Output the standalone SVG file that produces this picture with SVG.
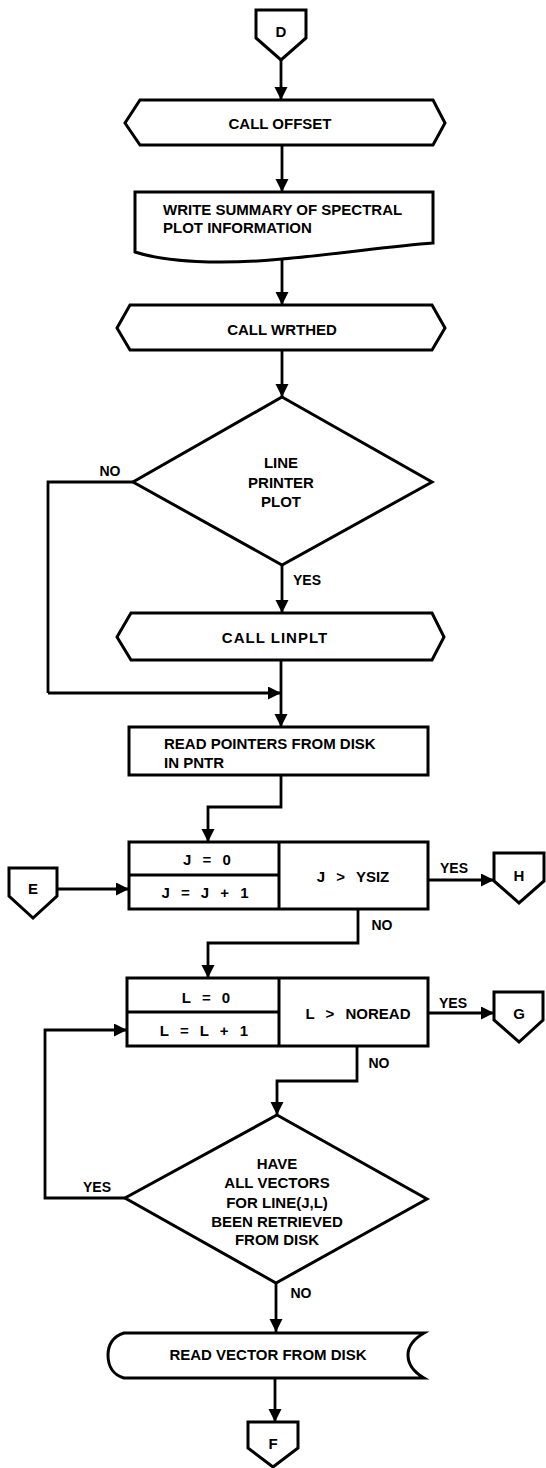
<svg xmlns="http://www.w3.org/2000/svg" width="546" height="1468" viewBox="0 0 546 1468">
<defs>
<marker id="arr" markerUnits="userSpaceOnUse" markerWidth="14" markerHeight="14" refX="13" refY="6.5" orient="auto">
<path d="M0,0 L13,6.5 L0,13 Z" fill="#000"/>
</marker>
<style>
.s{fill:#fff;stroke:#000;stroke-width:3;stroke-linejoin:miter}
.c{fill:none;stroke:#000;stroke-width:2.8}
.a{marker-end:url(#arr)}
text{font-family:"Liberation Sans",Arial,sans-serif;font-weight:bold;font-size:15px;fill:#000}
.m{text-anchor:middle;dominant-baseline:central}
.l{dominant-baseline:central}
.lb{font-size:14px}
.eq{word-spacing:7px}
</style>
</defs>
<rect width="546" height="1468" fill="#fff"/>
<g id="connectors">
<path class="c a" d="M281,60 V100"/>
<path class="c a" d="M282,145 V192"/>
<path class="c a" d="M282,259 V305"/>
<path class="c a" d="M282,350 V397"/>
<path class="c" d="M133,482 H48 V693"/>
<path class="c a" d="M48,693 H281"/>
<path class="c a" d="M282,565 V613"/>
<path class="c a" d="M281,660 V727"/>
<path class="c a" d="M281,775 V807 H208 V842"/>
<path class="c a" d="M57,889 H129"/>
<path class="c a" d="M428,880 H494"/>
<path class="c a" d="M358,909 V943 H208 V978"/>
<path class="c a" d="M428,1013 H494"/>
<path class="c a" d="M357,1046 V1081 H277 V1115"/>
<path class="c a" d="M125,1198 H45 V1030 H127"/>
<path class="c a" d="M276,1283 V1332"/>
<path class="c a" d="M275,1378 V1422"/>
<text class="m lb" x="110" y="471">NO</text>
<text class="m lb" x="307" y="580">YES</text>
<text class="m lb" x="454" y="868">YES</text>
<text class="m lb" x="382" y="925">NO</text>
<text class="m lb" x="453" y="1003">YES</text>
<text class="m lb" x="379" y="1063">NO</text>
<text class="m lb" x="97" y="1187">YES</text>
<text class="m lb" x="301" y="1293">NO</text>
</g>
<g id="D">
<polygon class="s" points="256,10 306,10 306,38 281,60 256,38"/>
<text class="m" x="281" y="31">D</text>
</g>
<g id="call_offset">
<polygon class="s" points="140,100 433,100 445,123 433,145 140,145 125,123"/>
<text class="m" x="280" y="123">CALL OFFSET</text>
</g>
<g id="write_summary">
<path class="s" d="M135,192 H433 V243 C390,246 340,254 282,259 C220,265 165,262 135,252 Z"/>
<text class="l" x="163" y="209">WRITE SUMMARY OF SPECTRAL</text>
<text class="l" x="163" y="227">PLOT INFORMATION</text>
</g>
<g id="call_wrthed">
<polygon class="s" points="130,305 432,305 445,328 432,350 130,350 117,328"/>
<text class="m" x="282" y="329">CALL WRTHED</text>
</g>
<g id="line_printer_plot">
<polygon class="s" points="282,397 432,482 282,565 133,482"/>
<text class="m" x="281" y="462">LINE</text>
<text class="m" x="281" y="482">PRINTER</text>
<text class="m" x="281" y="501">PLOT</text>
</g>
<g id="call_linplt">
<polygon class="s" points="131,613 432,613 444,637 432,660 131,660 117,637"/>
<text class="m" x="275" y="637" style="letter-spacing:1px">CALL LINPLT</text>
</g>
<g id="read_pointers">
<rect class="s" x="129" y="727" width="299" height="48"/>
<text class="l" x="164" y="743">READ POINTERS FROM DISK</text>
<text class="l" x="164" y="762">IN PNTR</text>
</g>
<g id="loop_j">
<rect class="s" x="129" y="842" width="299" height="67"/>
<path class="c" d="M279,842 V909 M129,875 H279" style="stroke-width:3"/>
<text class="m eq" x="207" y="859">J = 0</text>
<text class="m eq" x="205" y="892">J = J + 1</text>
<text class="m eq" x="353" y="876">J &gt; YSIZ</text>
</g>
<g id="E">
<polygon class="s" points="9,868 57,868 57,896 33,918 9,896"/>
<text class="m" x="33" y="888">E</text>
</g>
<g id="H">
<polygon class="s" points="494,853 544,853 544,881 519,903 494,881"/>
<text class="m" x="519" y="875">H</text>
</g>
<g id="loop_l">
<rect class="s" x="127" y="978" width="301" height="68"/>
<path class="c" d="M279,978 V1046 M127,1012 H279" style="stroke-width:3"/>
<text class="m eq" x="206" y="997">L = 0</text>
<text class="m eq" x="204" y="1030">L = L + 1</text>
<text class="m eq" x="358" y="1013">L &gt; NOREAD</text>
</g>
<g id="G">
<polygon class="s" points="494,992 543,992 543,1020 519,1042 494,1020"/>
<text class="m" x="519" y="1013">G</text>
</g>
<g id="all_vectors">
<polygon class="s" points="277,1115 427,1199 276,1283 125,1198"/>
<text class="m" x="277" y="1163">HAVE</text>
<text class="m" x="277" y="1182">ALL VECTORS</text>
<text class="m" x="277" y="1202">FOR LINE(J,L)</text>
<text class="m" x="277" y="1221">BEEN RETRIEVED</text>
<text class="m" x="277" y="1239">FROM DISK</text>
</g>
<g id="read_vector">
<path class="s" d="M124,1333 H424 C412,1340 408,1348 408,1355 C408,1363 412,1371 424,1378 H124 C113,1375 108,1366 108,1355 C108,1345 113,1336 124,1333 Z"/>
<text class="m" x="268" y="1354">READ VECTOR FROM DISK</text>
</g>
<g id="F">
<polygon class="s" points="248,1422 298,1422 298,1448 273,1467 248,1448"/>
<text class="m" x="273" y="1443">F</text>
</g>
</svg>
